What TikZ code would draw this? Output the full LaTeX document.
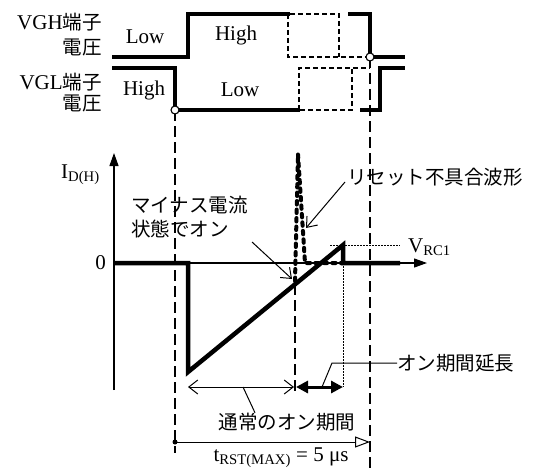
\documentclass[tikz,border=0pt]{standalone}
\usepackage{fontspec}
\setmainfont{Liberation Serif}
\newfontfamily\jpfont[Scale=0.93]{Noto Sans CJK JP}
\usetikzlibrary{arrows.meta}

\tikzset{
  lbl/.style={font=\fontsize{21}{24}\selectfont, inner sep=0pt},
  jlbl/.style={font=\fontsize{21}{24}\selectfont\jpfont, inner sep=0pt},
  sig/.style={line width=4pt},
  sigalt/.style={line width=2.5pt, dash pattern=on 5pt off 3pt},
  wave/.style={line width=4.5pt},
  spike/.style={line width=4pt, line cap=round, dash pattern=on 3.5pt off 5pt},
  timing/.style={line width=1.1pt, dash pattern=on 11pt off 5pt},
  guide/.style={line width=1pt, dash pattern=on 1.5pt off 1.5pt},
  junction/.style={circle, draw, fill=white, line width=1.1pt, inner sep=0pt, minimum size=8pt},
  axis/.style={line width=1.2pt, -{Triangle[length=13pt,width=9pt]}},
  note/.style={line width=1pt, -{Straight Barb[length=9pt,width=14pt]}},
}

\begin{document}
\begin{tikzpicture}[x=1pt,y=-1pt]
  \useasboundingbox (0,0) rectangle (534,468);

  \node[lbl, anchor=east] (vgh) at (102,22) {VGH{\jpfont 端子}};
  \node[jlbl, anchor=east] (vghv) at (102,47) {電圧};
  \node[lbl, anchor=east] (vgl) at (102,82) {VGL{\jpfont 端子}};
  \node[jlbl, anchor=east] (vglv) at (102,103) {電圧};
  \node[lbl] (hlow) at (145,37) {Low};
  \node[lbl] (hhigh) at (236,35) {High};
  \node[lbl] (lhigh) at (144,90) {High};
  \node[lbl] (llow) at (240,90) {Low};

  \draw[sig] (112,57) -- (188,57) -- (188,14) -- (290,14);
  \draw[sig] (348,14) -- (370,14) -- (370,57) -- (405,57);
  \draw[sigalt] (288,14) -- (288,57) -- (370,57);
  \draw[sigalt] (290,14) -- (339,14) -- (339,57);
  \draw[sig] (112,68) -- (175,68) -- (175,110) -- (300,110);
  \draw[sig] (360,110) -- (380,110) -- (380,68) -- (405,68);
  \draw[sigalt] (299,110) -- (299,68) -- (370,68);
  \draw[sigalt] (300,110) -- (352,110) -- (352,68);

  \coordinate (ton) at (175,110);
  \coordinate (toff) at (370,57);
  \coordinate (tonEnd) at (175,453);
  \coordinate (toffEnd) at (370,468);
  \draw[timing] (ton) -- (tonEnd);
  \draw[timing] (toff) -- (toffEnd);
  \node[junction] (jl) at (ton) {};
  \node[junction] (jh) at (toff) {};

  \coordinate (O) at (114,263);
  \coordinate (ybot) at (114,390);
  \coordinate (ytop) at (114,153);
  \coordinate (xend) at (427,263);
  \draw[axis] (ybot) -- (ytop);
  \draw[axis] (O) -- (xend);
  \node[lbl, anchor=east] (zero) at (106,263) {0};
  \node[lbl, anchor=base west] (iname) at (61,178) {I\textsubscript{D(H)}};

  \coordinate (fall) at (188,263);
  \coordinate (low) at (188,372);
  \coordinate (peak) at (343,245);
  \coordinate (back) at (343,263);
  \coordinate (stop) at (400,263);
  \coordinate (onEnd) at (295,284);
  \draw[wave] (O) -- (fall) -- (low) -- (peak) -- (back) -- (stop);
  \draw[spike] (295,281) -- (298,154) -- (305,263) -- (back);

  \coordinate (onLow) at (295,392);
  \coordinate (extLow) at (343,387);
  \draw[timing] (onEnd) -- (onLow);
  \draw[guide] (back) -- (extLow);
  \draw[guide] (330,245) -- (400,245);
  \node[lbl, anchor=base west] (vrc) at (408,252) {V\textsubscript{RC1}};

  \node[jlbl, anchor=west, align=left] (minus) at (131,217) {マイナス電流\\状態でオン};
  \coordinate (minusTail) at (252,242);
  \coordinate (minusTip) at (292,279);
  \draw[note] (minusTail) -- (minusTip);

  \node[jlbl, anchor=west] (fail) at (347,177) {リセット不具合波形};
  \coordinate (failTail) at (345,182);
  \coordinate (failTip) at (306,228);
  \draw[note] (failTail) -- (failTip);

  \coordinate (nA) at (188,387);
  \coordinate (nB) at (294,387);
  \draw[line width=1pt, {Straight Barb[length=9pt,width=14pt]}-{Straight Barb[length=9pt,width=14pt]}] (nA) -- (nB);
  \node[jlbl] (normal) at (287,422) {通常のオン期間};
  \draw[line width=1pt] (243,387) -- (normal.north -| 255,0);

  \coordinate (eA) at (296,387);
  \draw[line width=3pt, {Triangle[length=12pt,width=12pt]}-{Triangle[length=12pt,width=12pt]}] (eA) -- (extLow);
  \node[jlbl, anchor=west] (extend) at (397,363) {オン期間延長};
  \draw[line width=1pt] (extend.west) -- (332,363) -- (322,387);

  \coordinate (rA) at (175,442);
  \coordinate (rB) at (370,442);
  \fill (rA) circle (2.5);
  \draw[line width=1pt, -{Triangle[open,length=15pt,width=11pt]}] (rA) -- (rB);
  \node[lbl] (trst) at (281,458) {t\textsubscript{RST(MAX)} = 5 μs};
\end{tikzpicture}
\end{document}
